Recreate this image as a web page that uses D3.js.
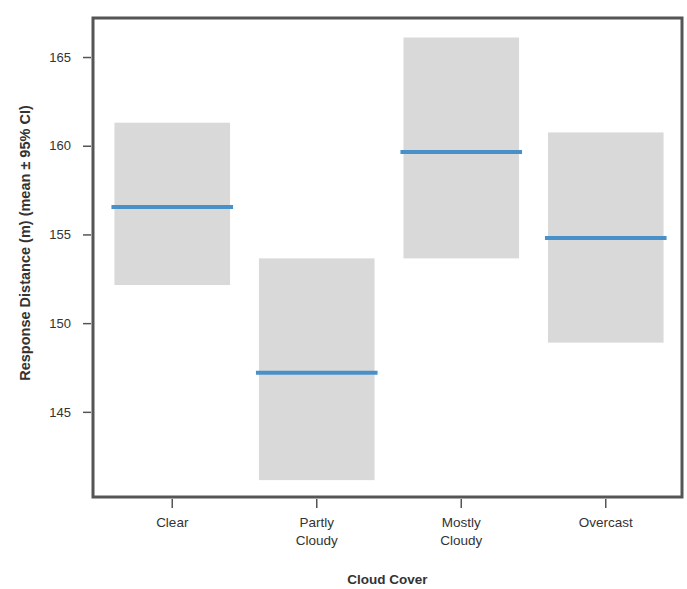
<!DOCTYPE html>
<html>
<head>
<meta charset="utf-8">
<script src="https://cdn.jsdelivr.net/npm/d3@7"></script>
<style>
  body { margin: 0; background: #fff; }
  text { font-family: "Liberation Sans", Arial, sans-serif; fill: #333; }
</style>
</head>
<body>
<script>
// data
var categories = ["Clear", "Partly Cloudy", "Mostly Cloudy", "Overcast"];
var means = [156.55, 147.2, 159.65, 154.8];
var ciLow = [152.15, 141.15, 153.65, 148.9];
var ciHigh = [161.3, 153.65, 166.1, 160.75];
var yTicks = [145, 150, 155, 160, 165];

// layout (plot frame edges)
var width = 687, height = 589;
var plotL = 93, plotR = 682, plotT = 18, plotB = 497;

var svg = d3.select("body").append("svg")
    .attr("width", width)
    .attr("height", height);

var x = d3.scaleBand()
    .domain(categories)
    .range([100, 678])
    .paddingInner(0.2)
    .paddingOuter(0.1);

var y = d3.scaleLinear()
    .domain([140.2, 167.2])
    .range([plotB, plotT]);

var rows = categories.map(function(c, i) {
    return { cat: c, mean: means[i], lo: ciLow[i], hi: ciHigh[i] };
});

// CI boxes
svg.append("g").selectAll("rect")
    .data(rows)
    .enter()
    .append("rect")
    .attr("x", function(d) { return x(d.cat); })
    .attr("y", function(d) { return y(d.hi); })
    .attr("width", x.bandwidth())
    .attr("height", function(d) { return y(d.lo) - y(d.hi); })
    .attr("fill", "#d9d9d9");

// mean lines
svg.append("g").selectAll("line")
    .data(rows)
    .enter()
    .append("line")
    .attr("x1", function(d) { return x(d.cat) - 3; })
    .attr("x2", function(d) { return x(d.cat) + x.bandwidth() + 3; })
    .attr("y1", function(d) { return y(d.mean); })
    .attr("y2", function(d) { return y(d.mean); })
    .attr("stroke", "#4a90c8")
    .attr("stroke-width", 4);

// frame
svg.append("rect")
    .attr("x", plotL)
    .attr("y", plotT)
    .attr("width", plotR - plotL)
    .attr("height", plotB - plotT)
    .attr("fill", "none")
    .attr("stroke", "#555")
    .attr("stroke-width", 3);

// y axis
var yAxis = svg.append("g")
    .attr("transform", "translate(" + (plotL - 2) + ",0)")
    .call(d3.axisLeft(y).tickValues(yTicks).tickSize(8).tickPadding(12));
yAxis.select(".domain").remove();
yAxis.selectAll(".tick line").attr("stroke", "#555").attr("stroke-width", 1.5);
yAxis.selectAll("text").style("font-size", "13px").attr("fill", "#444");

// x axis
var xAxis = svg.append("g")
    .attr("transform", "translate(0," + (plotB + 2) + ")")
    .call(d3.axisBottom(x).tickSize(9).tickPadding(9));
xAxis.select(".domain").remove();
xAxis.selectAll(".tick line").attr("stroke", "#555").attr("stroke-width", 1.5);
xAxis.selectAll(".tick text").each(function(d) {
    var t = d3.select(this);
    var words = d.split(" ");
    t.text(null).style("font-size", "13.5px").attr("fill", "#444");
    words.forEach(function(w, i) {
        t.append("tspan")
            .attr("x", 0)
            .attr("dy", i == 0 ? "0.71em" : "1.4em")
            .text(w);
    });
});

// titles
svg.append("text")
    .attr("x", (plotL + plotR) / 2)
    .attr("y", 584)
    .attr("text-anchor", "middle")
    .style("font-size", "13.5px")
    .style("font-weight", "bold")
    .text("Cloud Cover");

svg.append("text")
    .attr("transform", "translate(30,243) rotate(-90)")
    .attr("text-anchor", "middle")
    .style("font-size", "14.5px")
    .style("font-weight", "bold")
    .text("Response Distance (m) (mean \u00b1 95% CI)");
</script>
</body>
</html>
